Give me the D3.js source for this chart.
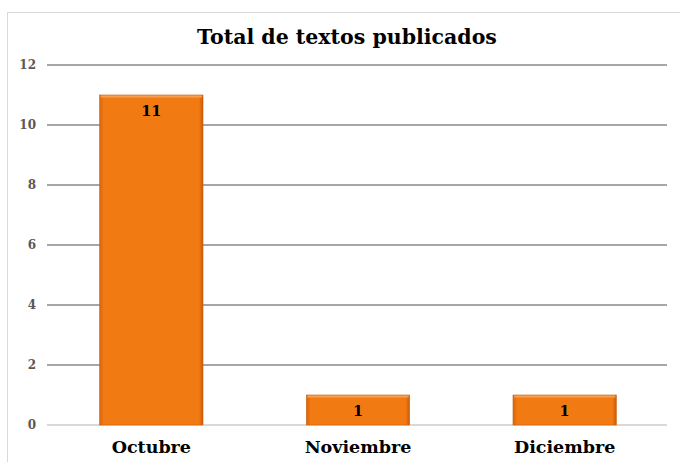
<!DOCTYPE html>
<html><head><meta charset="utf-8">
<script src="https://cdn.jsdelivr.net/npm/d3@7"></script>
<style>body{margin:0;background:#fff}svg{display:block}</style>
</head><body><svg id="c" width="680" height="462"></svg>
<script>
const categories = ["Octubre", "Noviembre", "Diciembre"];
const values = [11, 1, 1];
const yTicks = [0, 2, 4, 6, 8, 10, 12];
const title = "Total de textos publicados";

const svg = d3.select("#c");
const font = "'DejaVu Serif', 'Liberation Serif', serif";
svg.append("rect").attr("x", 7.5).attr("y", 12.5).attr("width", 690).attr("height", 470)
  .attr("fill", "#fff").attr("stroke", "#d9d9d9");

const x = d3.scaleBand().domain(categories).range([48, 668]).padding(0.5).paddingOuter(0.25);
const y = d3.scaleLinear().domain([0, 12]).range([425, 65]);

const defs = svg.append("defs");
const g1 = defs.append("linearGradient").attr("id", "hg").attr("x1", 0).attr("x2", 1).attr("y1", 0).attr("y2", 0);
g1.append("stop").attr("offset", "0").attr("stop-color", "#d8640c");
g1.append("stop").attr("offset", "0.04").attr("stop-color", "#f27a12");
g1.append("stop").attr("offset", "0.96").attr("stop-color", "#f27a12");
g1.append("stop").attr("offset", "1").attr("stop-color", "#c85a0a");

svg.append("g").selectAll("line").data(yTicks).join("line")
  .attr("x1", 47).attr("x2", 667).attr("y1", d => y(d)).attr("y2", d => y(d))
  .attr("stroke", d => d === 0 ? "#d9d9d9" : "#a6a6a6").attr("stroke-width", 2);

svg.append("g").selectAll("text").data(yTicks).join("text")
  .attr("x", 36).attr("y", d => y(d)).attr("dy", "0.35em").attr("text-anchor", "end")
  .attr("font-family", font).attr("font-weight", "bold").attr("font-size", 12).attr("fill", "#595959")
  .text(d => d);

const bars = svg.append("g").selectAll("g").data(categories).join("g");
bars.append("rect")
  .attr("x", (d) => x(d)).attr("width", x.bandwidth())
  .attr("y", (d, i) => y(values[i])).attr("height", (d, i) => y(0) - y(values[i]))
  .attr("fill", "url(#hg)").attr("stroke", "#c8600e").attr("stroke-width", 0.6);
bars.append("rect")
  .attr("x", (d) => x(d) + 1).attr("width", x.bandwidth() - 2)
  .attr("y", (d, i) => y(values[i]) + 0.5).attr("height", 2)
  .attr("fill", "#f8a050");
bars.append("text")
  .attr("x", d => x(d) + x.bandwidth() / 2).attr("y", (d, i) => y(values[i]) + 21)
  .attr("text-anchor", "middle").attr("font-family", font).attr("font-weight", "bold")
  .attr("font-size", 14.5).attr("fill", "#000").text((d, i) => values[i]);

svg.append("g").selectAll("text").data(categories).join("text")
  .attr("x", d => x(d) + x.bandwidth() / 2).attr("y", 453).attr("text-anchor", "middle")
  .attr("font-family", font).attr("font-weight", "bold").attr("font-size", 17.5).attr("fill", "#000")
  .text(d => d);

svg.append("text").attr("x", 347).attr("y", 44).attr("text-anchor", "middle")
  .attr("font-family", font).attr("font-weight", "bold").attr("font-size", 20.5).attr("fill", "#000")
  .text(title);
</script></body></html>
